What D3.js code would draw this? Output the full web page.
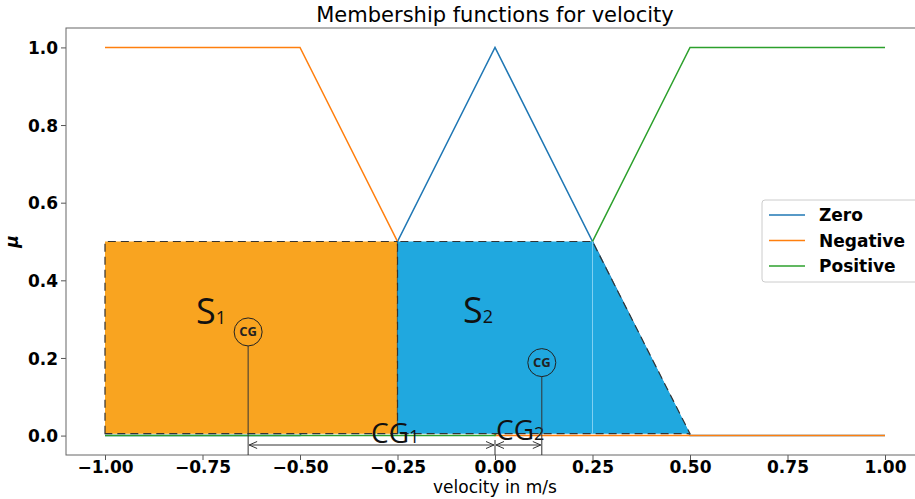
<!DOCTYPE html>
<html>
<head>
<meta charset="utf-8">
<script src="https://cdn.jsdelivr.net/npm/d3@7"></script>
<style>
  html, body { margin: 0; padding: 0; background: #fff; }
  svg { display: block; }
</style>
</head>
<body>
<svg id="chart" width="915" height="499"></svg>
<script>
// Membership function breakpoints (velocity, m/s)
const velocity = [-1, -0.5, 0, 0.5, 1];
const muZero = [0, 0, 1, 0, 0];
const muNegative = [1, 1, 0, 0, 0];
const muPositive = [0, 0, 0, 1, 1];
const seriesNames = ["Zero", "Negative", "Positive"];
const seriesColors = ["#1f77b4", "#ff7f0e", "#2ca02c"];

// Clipped output regions
const s1X = [-1, -1, -0.25, -0.25];
const s1Y = [0.005, 0.5, 0.5, 0.005];
const s2X = [-0.25, -0.25, 0.25, 0.5];
const s2Y = [0.005, 0.5, 0.5, 0.005];
const dividerX = 0.25;

// Centres of gravity
const cgX = [-0.633, 0.12];
const cgY = [0.267, 0.188];

const xTicks = [-1, -0.75, -0.5, -0.25, 0, 0.25, 0.5, 0.75, 1];
const yTicks = [0, 0.2, 0.4, 0.6, 0.8, 1.0];

const svg = d3.select("#chart");
const plotLeft = 66, plotRight = 924, plotTop = 28, plotBottom = 455;

const x = d3.scaleLinear().domain([-1.1, 1.1]).range([plotLeft, plotRight]);
const y = d3.scaleLinear().domain([-0.05, 1.05]).range([plotBottom, plotTop]);

// Title
svg.append("text")
  .attr("x", (plotLeft + plotRight) / 2).attr("y", 22)
  .attr("text-anchor", "middle")
  .style("font-family", "DejaVu Sans").style("font-size", "21px")
  .text("Membership functions for velocity");

// Axes
const xAxis = d3.axisBottom(x).tickValues(xTicks).tickFormat(d3.format(".2f"))
  .tickSizeOuter(0).tickSize(5).tickPadding(1);
const yAxis = d3.axisLeft(y).tickValues(yTicks).tickFormat(d3.format(".1f"))
  .tickSizeOuter(0).tickSize(5).tickPadding(3);

const gx = svg.append("g").attr("transform", `translate(0,${plotBottom})`).call(xAxis);
const gy = svg.append("g").attr("transform", `translate(${plotLeft},0)`).call(yAxis);
[gx, gy].forEach(g => {
  g.select(".domain").remove();
  g.selectAll(".tick line").attr("stroke", "#555");
  g.selectAll(".tick text")
    .style("font-family", "DejaVu Sans").style("font-weight", "bold")
    .style("font-size", "17px").attr("fill", "#000");
});
gy.selectAll(".tick text").attr("dy", "0.36em");

// Frame
svg.append("rect")
  .attr("x", plotLeft).attr("y", plotTop)
  .attr("width", plotRight - plotLeft).attr("height", plotBottom - plotTop)
  .attr("fill", "none").attr("stroke", "#666").attr("stroke-width", 1);

// Axis labels
svg.append("text")
  .attr("x", (plotLeft + plotRight) / 2).attr("y", 493)
  .attr("text-anchor", "middle")
  .style("font-family", "DejaVu Sans").style("font-size", "17px")
  .text("velocity in m/s");
svg.append("text")
  .attr("transform", `translate(18,${(plotTop + plotBottom) / 2}) rotate(-90)`)
  .attr("text-anchor", "middle")
  .style("font-family", "DejaVu Sans").style("font-size", "17px")
  .style("font-weight", "bold").style("font-style", "italic")
  .text("μ");

// Membership function lines
const series = [muZero, muNegative, muPositive];
const line = d3.line().x(d => x(d[0])).y(d => y(d[1]));
series.forEach((vals, i) => {
  svg.append("path")
    .datum(velocity.map((v, k) => [v, vals[k]]))
    .attr("d", line)
    .attr("fill", "none")
    .attr("stroke", seriesColors[i])
    .attr("stroke-width", 1.5);
});

// Clipped regions
const poly = (xs, ys) => xs.map((v, k) => [x(v), y(ys[k])]);
const closed = d3.line().x(d => d[0]).y(d => d[1]);
svg.append("path")
  .attr("d", closed(poly(s1X, s1Y)) + "Z")
  .attr("fill", "#f9a420")
  .attr("stroke", "#333").attr("stroke-width", 1.2).attr("stroke-dasharray", "8,5");
svg.append("path")
  .attr("d", closed(poly(s2X, s2Y)) + "Z")
  .attr("fill", "#20a8df")
  .attr("stroke", "#333").attr("stroke-width", 1.2).attr("stroke-dasharray", "8,5");
svg.append("line")
  .attr("x1", x(dividerX)).attr("x2", x(dividerX))
  .attr("y1", y(0.5)).attr("y2", y(0.005))
  .attr("stroke", "#7fd0f2").attr("stroke-width", 1);

// Region labels
function subLabel(px, py, main, sub, size, subSize) {
  const t = svg.append("text")
    .attr("x", px).attr("y", py)
    .style("font-family", "Open Sans").style("font-size", size + "px")
    .attr("fill", "#111");
  t.append("tspan").text(main);
  t.append("tspan").style("font-size", subSize + "px").text(sub);
}
subLabel(196, 324, "S", "1", 36, 18);
subLabel(463, 323, "S", "2", 36, 18);
subLabel(371, 443, "CG", "1", 28, 18);
subLabel(496, 440, "CG", "2", 28, 18);

// Centre-of-gravity markers
const r = 14;
cgX.forEach((cx, i) => {
  const px = x(cx), py = y(cgY[i]);
  svg.append("circle").attr("cx", px).attr("cy", py).attr("r", r)
    .attr("fill", "none").attr("stroke", "#222").attr("stroke-width", 1);
  svg.append("text").attr("x", px).attr("y", py + 4.5)
    .attr("text-anchor", "middle")
    .style("font-family", "Open Sans").style("font-weight", "bold")
    .style("font-size", "13px").attr("fill", "#222")
    .text("CG");
  svg.append("line").attr("x1", px).attr("x2", px)
    .attr("y1", py + r).attr("y2", plotBottom)
    .attr("stroke", "#333").attr("stroke-width", 1);
});

// Distance arrows from origin to each centre of gravity
const arrowY = 445;
svg.append("line").attr("x1", x(0)).attr("x2", x(0))
  .attr("y1", 440).attr("y2", plotBottom)
  .attr("stroke", "#333").attr("stroke-width", 1);
function arrowHead(px, dir) {
  svg.append("path")
    .attr("d", `M${px + dir * 8},${arrowY - 3.5} L${px},${arrowY} L${px + dir * 8},${arrowY + 3.5}`)
    .attr("fill", "none").attr("stroke", "#333").attr("stroke-width", 1);
}
cgX.forEach(cx => {
  const a = Math.min(x(cx), x(0)), b = Math.max(x(cx), x(0));
  svg.append("line").attr("x1", a + 1).attr("x2", b - 1)
    .attr("y1", arrowY).attr("y2", arrowY)
    .attr("stroke", "#333").attr("stroke-width", 1);
  arrowHead(a + 1, 1);
  arrowHead(b - 1, -1);
});

// Legend
const lg = svg.append("g");
lg.append("rect")
  .attr("x", 762).attr("y", 200).attr("width", 170).attr("height", 82)
  .attr("rx", 3).attr("fill", "#fff").attr("fill-opacity", 0.8)
  .attr("stroke", "#ccc").attr("stroke-width", 1);
seriesNames.forEach((name, i) => {
  const ly = 215 + i * 25.5;
  lg.append("line").attr("x1", 769).attr("x2", 805)
    .attr("y1", ly).attr("y2", ly)
    .attr("stroke", seriesColors[i]).attr("stroke-width", 1.5);
  lg.append("text").attr("x", 819).attr("y", ly + 6)
    .style("font-family", "DejaVu Sans").style("font-weight", "bold")
    .style("font-size", "17px")
    .text(name);
});
</script>
</body>
</html>
